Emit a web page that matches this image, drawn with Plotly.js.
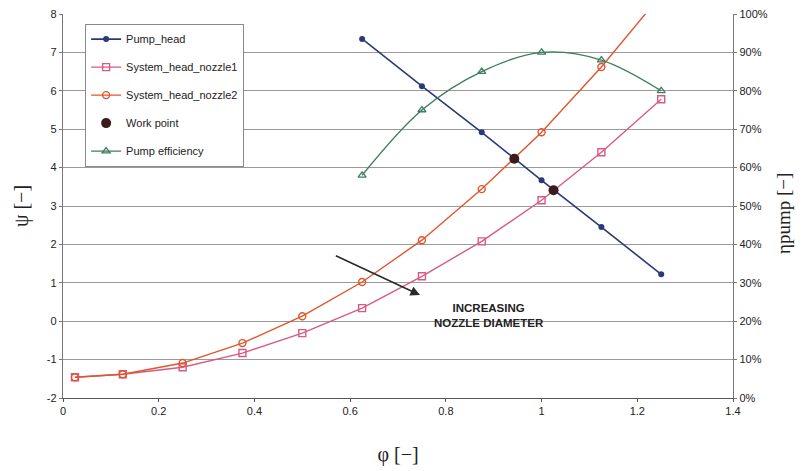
<!DOCTYPE html>
<html>
<head>
<meta charset="utf-8">
<script src="https://cdn.plot.ly/plotly-3.0.1.min.js"></script>
<style>html,body{margin:0;padding:0;background:#fff;}#chart{width:803px;height:471px;}</style>
</head>
<body>
<div id="chart"></div>
<script>
// Flow coefficient (phi) sample points
const phiPump = [0.625, 0.75, 0.875, 1.0, 1.125, 1.25];
const pumpHead = [7.35, 6.12, 4.92, 3.67, 2.45, 1.22];

const phiSystem = [0.025, 0.125, 0.25, 0.375, 0.5, 0.625, 0.75, 0.875, 1.0, 1.125, 1.25];
const systemHeadNozzle1 = [-1.46, -1.38, -1.20, -0.83, -0.31, 0.34, 1.17, 2.08, 3.15, 4.40, 5.78];
const systemHeadNozzle2 = [-1.46, -1.38, -1.09, -0.57, 0.13, 1.02, 2.11, 3.44, 4.92, 6.62, 8.50];

const workPhi = [0.943, 1.025];
const workPsi = [4.23, 3.41];

const pumpEfficiency = [58, 75, 85, 90, 88, 80]; // percent, at phiPump

const psiTicks = [-2, -1, 0, 1, 2, 3, 4, 5, 6, 7, 8];
const phiTicks = [0, 0.2, 0.4, 0.6, 0.8, 1, 1.2, 1.4];
const etaTicks = [0, 10, 20, 30, 40, 50, 60, 70, 80, 90, 100];

const tickFont = {family: 'Liberation Sans, Arial, sans-serif', size: 11, color: '#222'};
const titleFont = {family: 'Liberation Serif, Times New Roman, serif', size: 20, color: '#222'};

const traces = [
  {x: phiPump, y: pumpHead, name: 'Pump_head', mode: 'lines+markers', legendgroup: 'a',
   line: {color: '#2a3a78', width: 1.6}, marker: {symbol: 'circle', size: 6, color: '#2a3a78'}},
  {x: phiSystem, y: systemHeadNozzle1, name: 'System_head_nozzle1', mode: 'lines+markers', legendgroup: 'b',
   line: {color: '#d85a82', width: 1.4}, marker: {symbol: 'square-open', size: 7, color: '#d85a82', line: {width: 1.4}}},
  {x: phiSystem, y: systemHeadNozzle2, name: 'System_head_nozzle2', mode: 'lines+markers', legendgroup: 'c',
   line: {color: '#e0562c', width: 1.4}, marker: {symbol: 'circle-open', size: 7, color: '#e0562c', line: {width: 1.4}}},
  {x: workPhi, y: workPsi, name: 'Work point', mode: 'markers', legendgroup: 'd',
   marker: {symbol: 'circle', size: 10, color: '#3a1c1c'}},
  {x: phiPump, y: pumpEfficiency, name: 'Pump efficiency', mode: 'lines+markers', yaxis: 'y2', legendgroup: 'e',
   line: {color: '#3f7d5e', width: 1.4, shape: 'spline', smoothing: 1}, marker: {symbol: 'triangle-up-open', size: 7, color: '#3f7d5e', line: {width: 1.3}}}
];

const layout = {
  width: 803, height: 471,
  margin: {l: 63, r: 70, t: 14, b: 73},
  paper_bgcolor: '#fff', plot_bgcolor: '#fff',
  showlegend: true,
  legend: {x: 0.033, y: 0.975, xanchor: 'left', yanchor: 'top',
           bgcolor: '#fff', bordercolor: '#8a8a8a', borderwidth: 1,
           font: {family: 'Liberation Sans, Arial, sans-serif', size: 11, color: '#222'},
           tracegroupgap: 9, itemwidth: 30},
  xaxis: {range: [0, 1.4], tickvals: phiTicks, ticktext: phiTicks.map(String),
          showgrid: false, zeroline: false, showline: true, linecolor: '#555', linewidth: 1.2,
          ticks: 'outside', ticklen: 3, tickcolor: '#555', tickfont: tickFont,
          title: {text: 'φ [−]', font: titleFont, standoff: 30}},
  yaxis: {range: [-2, 8], tickvals: psiTicks, ticktext: psiTicks.map(String),
          showgrid: true, gridcolor: '#9a9a9a', gridwidth: 1, zeroline: false,
          showline: true, linecolor: '#777', linewidth: 1.2,
          ticks: 'outside', ticklen: 3, tickcolor: '#777', tickfont: tickFont,
          title: {text: 'ψ [−]', font: titleFont, standoff: 12}},
  yaxis2: {range: [0, 100], overlaying: 'y', side: 'right', tickvals: etaTicks,
           ticktext: etaTicks.map(v => v + '%'), showgrid: false, zeroline: false,
           showline: true, linecolor: '#777', linewidth: 1.2,
           ticks: 'outside', ticklen: 3, tickcolor: '#777', tickfont: tickFont},
  annotations: [
    {x: 0.746, y: 0.68, xref: 'x', yref: 'y', ax: 0.567, ay: 1.72, axref: 'x', ayref: 'y',
     showarrow: true, arrowhead: 2, arrowsize: 1.2, arrowwidth: 1.6, arrowcolor: '#2a2a2a', text: ''},
    {x: 0.89, y: 0.15, xref: 'x', yref: 'y', showarrow: false, align: 'center',
     text: '<b>INCREASING<br>NOZZLE DIAMETER</b>',
     font: {family: 'Liberation Sans, Arial, sans-serif', size: 11.5, color: '#222'}},
    {x: 1.075, y: 0.48, xref: 'paper', yref: 'paper', showarrow: false, textangle: -90,
     xanchor: 'center', yanchor: 'middle', text: 'ηpump [−]',
     font: {family: 'Liberation Serif, Times New Roman, serif', size: 19, color: '#222'}}
  ]
};

Plotly.newPlot('chart', traces, layout, {displayModeBar: false, staticPlot: true});
</script>
</body>
</html>
